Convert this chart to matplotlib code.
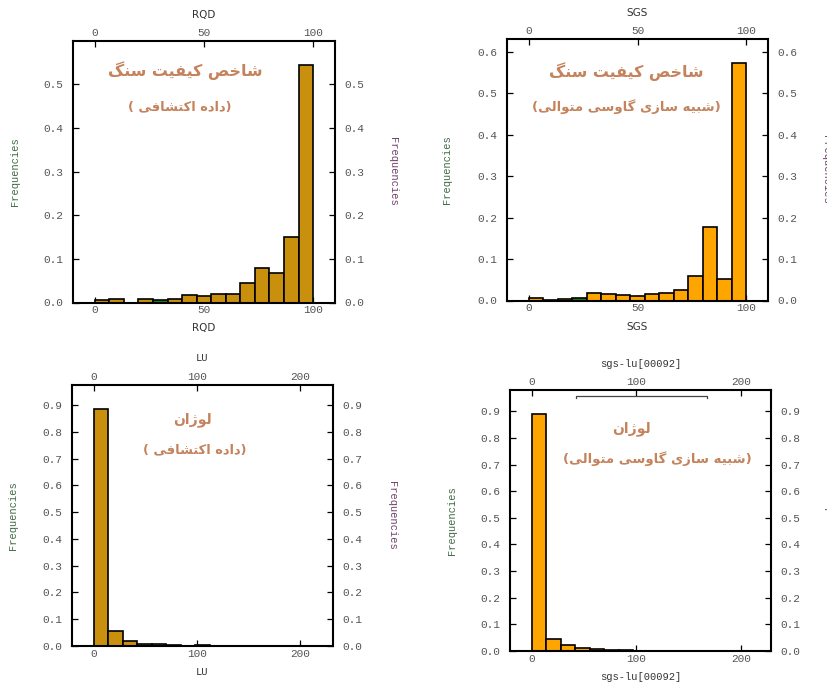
import unicodedata

import numpy as np
import matplotlib
matplotlib.use("Agg")
import matplotlib.pyplot as plt

# ---------------------------------------------------------------- data
n_bins = 15

rqd_range = (0.0, 100.0)
rqd_freq = [0.005, 0.007, 0.0, 0.008, 0.005, 0.008, 0.018, 0.016, 0.019,
            0.019, 0.044, 0.080, 0.067, 0.150, 0.545]

sgs_range = (0.0, 100.0)
sgs_freq = [0.0065, 0.001, 0.003, 0.005, 0.0185, 0.0145, 0.013, 0.011,
            0.0145, 0.017, 0.025, 0.059, 0.177, 0.053, 0.573]

lu_range = (0.0, 210.8)
lu_freq = [0.886, 0.057, 0.020, 0.0075, 0.0075, 0.0025, 0.0, 0.004,
           0.0, 0.0, 0.0, 0.0, 0.0, 0.0, 0.0]

sgs_lu_range = (0.0, 208.1)
sgs_lu_freq = [0.891, 0.045, 0.0226, 0.0125, 0.0088, 0.005, 0.0025, 0.0,
               0.0, 0.0, 0.0, 0.0, 0.0, 0.0, 0.0]

# bracket drawn over the simulated LU histogram (x from, x to, height)
bracket_x = (42.0, 167.5)
bracket_y = 0.957

title_rqd = ["شاخص کیفیت سنگ", "(داده اکتشافی )"]
title_sgs = ["شاخص کیفیت سنگ", "(شبیه سازی گاوسی متوالی)"]
title_lu = ["لوژان", "(داده اکتشافی )"]
title_sgs_lu = ["لوژان", "(شبیه سازی گاوسی متوالی)"]

# ---------------------------------------------------------------- helpers
MIRROR = {"(": ")", ")": "("}


def _forms(ch):
    name = unicodedata.name(ch, "")
    out = {}
    if not name.startswith("ARABIC LETTER"):
        return out
    for key, suffix in (("iso", "ISOLATED FORM"), ("fin", "FINAL FORM"),
                        ("ini", "INITIAL FORM"), ("med", "MEDIAL FORM")):
        try:
            out[key] = unicodedata.lookup(f"{name} {suffix}")
        except KeyError:
            pass
    return out


def shape_rtl(text):
    """Contextual Arabic/Persian shaping, returned in visual (LTR) order."""
    forms = [_forms(c) for c in text]
    shaped = []
    for i, ch in enumerate(text):
        f = forms[i]
        if not f:
            shaped.append(MIRROR.get(ch, ch))
            continue
        prev_ok = i > 0 and "ini" in forms[i - 1]
        next_ok = i + 1 < len(text) and bool(forms[i + 1]) and "ini" in f
        if prev_ok and next_ok:
            key = "med"
        elif prev_ok:
            key = "fin"
        elif next_ok:
            key = "ini"
        else:
            key = "iso"
        shaped.append(f.get(key, f.get("iso", ch)))
    return "".join(reversed(shaped))


W, H = 828, 686
fig = plt.figure(figsize=(W / 100, H / 100), dpi=100)
fig.patch.set_facecolor("white")

MONO = "Liberation Mono"
TICK_COLOR = "#555555"
LEFT_LABEL_COLOR = "#3f6a45"
RIGHT_LABEL_COLOR = "#6f3f6a"
FARSI_COLOR = "#c4835c"
HIGHLIGHT = "#1f7a1f"


def px_text(x, y, s, **kw):
    fig.text(x / W, 1 - y / H, s, ha="center", va="center", **kw)


def panel(box, edges_range, freq, face, highlight_bin, yticks, xticks,
          xlabel, xlabel_font, label_y, ylabel_x, farsi, farsi_pos,
          farsi_sizes):
    left, top, right, bottom = box
    ax = fig.add_axes([left / W, 1 - bottom / H, (right - left) / W,
                       (bottom - top) / H])
    lo, hi = edges_range
    edges = np.linspace(lo, hi, n_bins + 1)
    widths = np.diff(edges)
    colors = [face] * n_bins
    if highlight_bin is not None:
        colors[highlight_bin] = HIGHLIGHT
    ax.bar(edges[:-1], freq, width=widths, align="edge", color=colors,
           edgecolor="black", linewidth=1.2, zorder=2)
    r = hi - lo
    ax.set_xlim(lo - 0.1 * r, hi + 0.1 * r)
    ax.set_ylim(0, 1.1 * max(freq))
    ax.set_xticks(xticks)
    ax.set_yticks(yticks)
    ax.set_yticklabels([f"{v:.1f}" for v in yticks])
    ax.tick_params(direction="in", length=4.5, width=0.9, color="black",
                   top=True, right=True, labeltop=True, labelright=True,
                   labelsize=8, labelcolor=TICK_COLOR)
    ax.tick_params(axis="y", pad=7)
    ax.tick_params(axis="x", pad=2)
    for lab in ax.get_xticklabels() + ax.get_yticklabels():
        lab.set_fontfamily(MONO)
    for sp in ax.spines.values():
        sp.set_linewidth(1.5)
    # axis captions
    cx = (left + right) / 2
    px_text(cx, label_y[0], xlabel, fontsize=7.5, color="#333333",
            family=xlabel_font)
    px_text(cx, label_y[1], xlabel, fontsize=7.5, color="#333333",
            family=xlabel_font)
    cy = (top + bottom) / 2
    px_text(ylabel_x[0], cy, "Frequencies", fontsize=7.5, rotation=90,
            color=LEFT_LABEL_COLOR, family=MONO)
    px_text(ylabel_x[1], cy, "Frequencies", fontsize=7.5, rotation=270,
            color=RIGHT_LABEL_COLOR, family=MONO)
    for (fx, fy), line, size in zip(farsi_pos, farsi, farsi_sizes):
        px_text(fx, fy, shape_rtl(line), fontsize=size, fontweight="bold",
                color=FARSI_COLOR, family="DejaVu Sans")
    return ax


panel((73, 41, 335, 302.5), rqd_range, rqd_freq, "#c8900c", 4,
      np.arange(0, 0.51, 0.1), [0, 50, 100], "RQD", "DejaVu Sans",
      (15, 328), (15, 393), title_rqd, [(185, 71), (180, 107)],
      (11.4, 9.4))

panel((507, 39, 768, 300.5), sgs_range, sgs_freq, "#ffa500", 3,
      np.arange(0, 0.61, 0.1), [0, 50, 100], "SGS", "DejaVu Sans",
      (13, 327), (447, 826), title_sgs, [(626, 72), (626, 107)],
      (11.4, 9.5))

panel((72, 385, 333, 646), lu_range, lu_freq, "#c8900c", 7,
      np.arange(0, 0.91, 0.1), [0, 100, 200], "LU", MONO,
      (358, 672), (13, 392), title_lu, [(193, 420), (195, 450)],
      (10.0, 9.4))

ax4 = panel((510, 390, 771, 651), sgs_lu_range, sgs_lu_freq, "#ffa500",
            None, np.arange(0, 0.91, 0.1), [0, 100, 200], "sgs-lu[00092]",
            MONO, (364, 677), (452, 828), title_sgs_lu,
            [(632, 429), (657, 459)], (10.0, 9.5))

ax4.plot([bracket_x[0], bracket_x[0], bracket_x[1], bracket_x[1]],
         [bracket_y - 0.008, bracket_y, bracket_y, bracket_y - 0.008],
         color="#444444", linewidth=0.9, zorder=3)

fig.savefig("out.png", dpi=100)
